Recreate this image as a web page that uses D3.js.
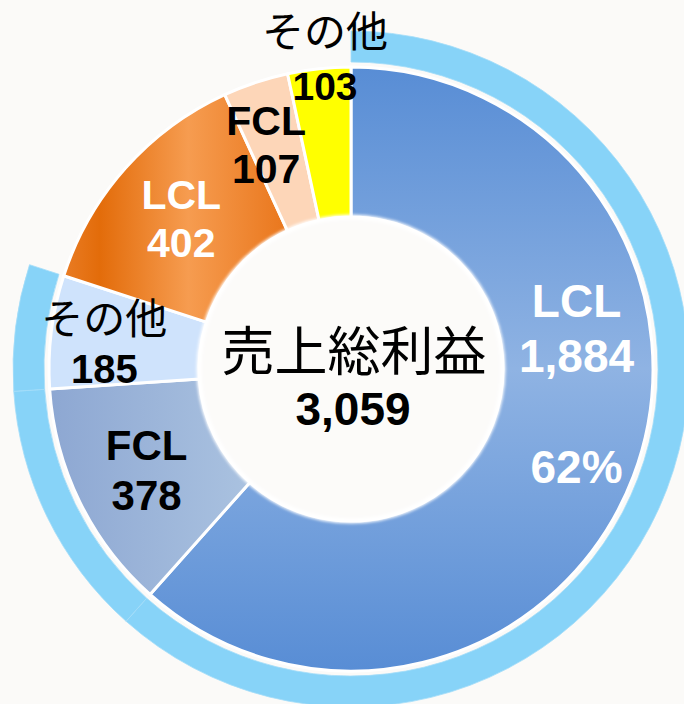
<!DOCTYPE html>
<html>
<head>
<meta charset="utf-8">
<script src="https://cdn.jsdelivr.net/npm/d3@7"></script>
<style>
  html, body { margin: 0; padding: 0; background: #fbfaf8; }
  svg { display: block; }
</style>
</head>
<body>
<div id="chart"></div>
<script>
// 売上総利益の内訳 (二重ドーナツ)
const kinds  = ["LCL", "FCL", "その他", "LCL", "FCL", "その他"];
const values = [1884, 378, 185, 402, 107, 103];
const ringMember = [true, true, true, false, false, false];   // 外側リングに含まれるスライス
const centerTitle = "売上総利益";
const shareOf = 0;   // % を表示するスライス

(() => {
  const width = 684, height = 704;
  const cx = 351, cy = 369;
  const rHole = 152, rOuter = 302, rRingIn = 307, rRingOut = 338;

  const fmtInt = d3.format(",");
  const fmtPct = d3.format(".0%");
  const total = d3.sum(values);

  const svg = d3.select("#chart").append("svg")
    .attr("width", width).attr("height", height)
    .attr("viewBox", [0, 0, width, height]);

  const defs = svg.append("defs");
  function grad(id, x1, y1, x2, y2, stops) {
    const lg = defs.append("linearGradient").attr("id", id)
      .attr("gradientUnits", "userSpaceOnUse")
      .attr("x1", x1).attr("y1", y1).attr("x2", x2).attr("y2", y2);
    stops.forEach(([o, c]) => lg.append("stop").attr("offset", o).attr("stop-color", c));
    return `url(#${id})`;
  }
  const fills = [
    grad("gLcl", 0, -rOuter, 0, rOuter, [[0, "#588dd5"], [0.5, "#8fb3e3"], [1, "#588dd5"]]),
    grad("gFcl", -rOuter, 0, -100, 0, [[0, "#8da7d2"], [1, "#aac2e0"]]),
    "#cfe3fc",
    grad("gOrg", -288, 0, -60, 0, [[0, "#e97c24"], [0.16, "#e36c0a"], [0.55, "#f69c50"], [1, "#e9751a"]]),
    "#fdd6b8",
    "#ffff00"
  ];
  defs.append("filter").attr("id", "soft")
    .append("feGaussianBlur").attr("stdDeviation", 1.6);

  const g = svg.append("g").attr("transform", `translate(${cx},${cy})`);

  const pie = d3.pie().sort(null).value(d => d);
  const arcs = pie(values);

  // 外側リング
  const ringArc = d3.arc().innerRadius(rRingIn).outerRadius(rRingOut);
  g.selectAll("path.ring")
    .data(arcs.filter((d, i) => ringMember[i]))
    .join("path")
    .attr("class", "ring")
    .attr("d", ringArc)
    .attr("fill", "#87d3f8")
    .attr("stroke", "#a4ddf9")
    .attr("stroke-width", 0.8);

  // 内側ドーナツ
  const arc = d3.arc().innerRadius(rHole).outerRadius(rOuter);
  g.selectAll("path.slice")
    .data(arcs)
    .join("path")
    .attr("class", "slice")
    .attr("d", arc)
    .attr("fill", (d, i) => fills[i])
    .attr("stroke", "#ffffff")
    .attr("stroke-width", 3)
    .attr("stroke-linejoin", "round");

  // 中央の穴 (白いにじみ)
  g.append("circle").attr("r", rHole)
    .attr("fill", "#fcfbf9")
    .attr("stroke", "#ffffff").attr("stroke-width", 5)
    .attr("filter", "url(#soft)");

  // ラベル配置 (角度: 上から時計回り, 半径)
  const labelPolar = [[93.7, 226], [243.7, 228], [275.8, 248], [311.6, 227], [339.3, 240], [355.2, 311]];
  const labelStyle = [
    { color: "#ffffff", size: 46, lh: 55.5 },
    { color: "#000000", size: 42, lh: 50 },
    { color: "#000000", size: 40, lh: 49 },
    { color: "#ffffff", size: 41, lh: 48 },
    { color: "#000000", size: 41, lh: 48 },
    { color: "#000000", size: 39, lh: 53 }
  ];
  const latin = "'Liberation Sans', Arial, sans-serif";
  const cjk = "'Noto Sans CJK JP', sans-serif";

  arcs.forEach((d, i) => {
    const [deg, r] = labelPolar[i];
    const a = deg * Math.PI / 180;
    const x = r * Math.sin(a), y = -r * Math.cos(a);
    const st = labelStyle[i];
    const lines = [kinds[i], fmtInt(values[i])];
    if (i === shareOf) lines.push("", fmtPct(values[i] / total));
    const n = lines.length;
    const cap = st.size * 0.716;
    lines.forEach((t, k) => {
      if (!t) return;
      const isCjk = /[^\x00-\x7f]/.test(t);
      g.append("text")
        .attr("x", x)
        .attr("y", y + (k - (n - 1) / 2) * st.lh + cap / 2)
        .attr("text-anchor", "middle")
        .attr("fill", st.color)
        .style("font-family", isCjk ? cjk : latin)
        .style("font-weight", isCjk ? 400 : 700)
        .style("font-size", (isCjk ? 42 : st.size) + "px")
        .text(t);
    });
  });

  // 中央ラベル
  g.append("text")
    .attr("x", 3).attr("y", 2)
    .attr("text-anchor", "middle")
    .style("font-family", cjk)
    .style("font-size", "53px")
    .attr("fill", "#000")
    .text(centerTitle);
  g.append("text")
    .attr("x", 2).attr("y", 56)
    .attr("text-anchor", "middle")
    .style("font-family", latin)
    .style("font-weight", 700)
    .style("font-size", "46px")
    .attr("fill", "#000")
    .text(fmtInt(total));
})();
</script>
</body>
</html>
